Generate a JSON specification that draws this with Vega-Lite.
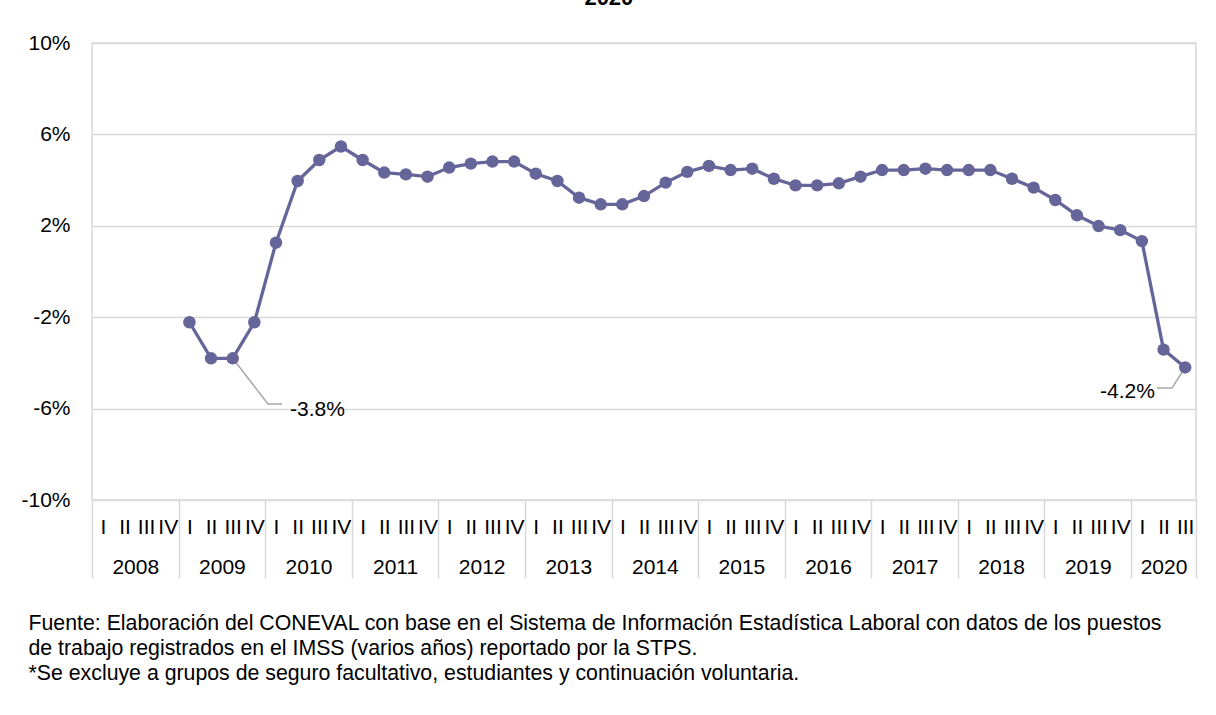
{
  "$schema": "https://vega.github.io/schema/vega-lite/v6.json",
  "width": 1104,
  "height": 457,
  "autosize": {"type": "none"},
  "padding": {"left": 92, "top": 43, "right": 20, "bottom": 215},
  "background": "white",
  "title": {"text": "2020", "fontSize": 22, "fontWeight": "bold", "font": "Liberation Sans", "color": "#000000", "anchor": "middle", "frame": "bounds", "baseline": "bottom", "offset": 20, "dy": 20},
  "config": {
    "view": {"stroke": "#d9d9d9", "strokeWidth": 1.5},
    "font": "Liberation Sans",
    "axis": {"labelFont": "Liberation Sans", "titleFont": "Liberation Sans", "labelColor": "#000000", "titleColor": "#000000"}
  },
  "datasets": {
    "series": [
      {"t": 2009.125, "year": 2009, "quarter": "I", "v": -2.22},
      {"t": 2009.375, "year": 2009, "quarter": "II", "v": -3.8},
      {"t": 2009.625, "year": 2009, "quarter": "III", "v": -3.8},
      {"t": 2009.875, "year": 2009, "quarter": "IV", "v": -2.22},
      {"t": 2010.125, "year": 2010, "quarter": "I", "v": 1.26},
      {"t": 2010.375, "year": 2010, "quarter": "II", "v": 3.96},
      {"t": 2010.625, "year": 2010, "quarter": "III", "v": 4.88},
      {"t": 2010.875, "year": 2010, "quarter": "IV", "v": 5.47},
      {"t": 2011.125, "year": 2011, "quarter": "I", "v": 4.88},
      {"t": 2011.375, "year": 2011, "quarter": "II", "v": 4.33},
      {"t": 2011.625, "year": 2011, "quarter": "III", "v": 4.25},
      {"t": 2011.875, "year": 2011, "quarter": "IV", "v": 4.15},
      {"t": 2012.125, "year": 2012, "quarter": "I", "v": 4.55},
      {"t": 2012.375, "year": 2012, "quarter": "II", "v": 4.72},
      {"t": 2012.625, "year": 2012, "quarter": "III", "v": 4.81},
      {"t": 2012.875, "year": 2012, "quarter": "IV", "v": 4.81},
      {"t": 2013.125, "year": 2013, "quarter": "I", "v": 4.28},
      {"t": 2013.375, "year": 2013, "quarter": "II", "v": 3.96},
      {"t": 2013.625, "year": 2013, "quarter": "III", "v": 3.23},
      {"t": 2013.875, "year": 2013, "quarter": "IV", "v": 2.94},
      {"t": 2014.125, "year": 2014, "quarter": "I", "v": 2.94},
      {"t": 2014.375, "year": 2014, "quarter": "II", "v": 3.3},
      {"t": 2014.625, "year": 2014, "quarter": "III", "v": 3.89},
      {"t": 2014.875, "year": 2014, "quarter": "IV", "v": 4.36},
      {"t": 2015.125, "year": 2015, "quarter": "I", "v": 4.62},
      {"t": 2015.375, "year": 2015, "quarter": "II", "v": 4.44},
      {"t": 2015.625, "year": 2015, "quarter": "III", "v": 4.5},
      {"t": 2015.875, "year": 2015, "quarter": "IV", "v": 4.06},
      {"t": 2016.125, "year": 2016, "quarter": "I", "v": 3.77},
      {"t": 2016.375, "year": 2016, "quarter": "II", "v": 3.77},
      {"t": 2016.625, "year": 2016, "quarter": "III", "v": 3.86},
      {"t": 2016.875, "year": 2016, "quarter": "IV", "v": 4.15},
      {"t": 2017.125, "year": 2017, "quarter": "I", "v": 4.44},
      {"t": 2017.375, "year": 2017, "quarter": "II", "v": 4.44},
      {"t": 2017.625, "year": 2017, "quarter": "III", "v": 4.5},
      {"t": 2017.875, "year": 2017, "quarter": "IV", "v": 4.44},
      {"t": 2018.125, "year": 2018, "quarter": "I", "v": 4.44},
      {"t": 2018.375, "year": 2018, "quarter": "II", "v": 4.44},
      {"t": 2018.625, "year": 2018, "quarter": "III", "v": 4.06},
      {"t": 2018.875, "year": 2018, "quarter": "IV", "v": 3.67},
      {"t": 2019.125, "year": 2019, "quarter": "I", "v": 3.13},
      {"t": 2019.375, "year": 2019, "quarter": "II", "v": 2.46},
      {"t": 2019.625, "year": 2019, "quarter": "III", "v": 1.99},
      {"t": 2019.875, "year": 2019, "quarter": "IV", "v": 1.81},
      {"t": 2020.125, "year": 2020, "quarter": "I", "v": 1.33},
      {"t": 2020.375, "year": 2020, "quarter": "II", "v": -3.42},
      {"t": 2020.625, "year": 2020, "quarter": "III", "v": -4.2}
    ],
    "leaders": [
      {"id": "a", "k": 1, "t": 2009.625, "v": -3.8},
      {"id": "a", "k": 2, "t": 2010.033, "v": -5.8},
      {"id": "a", "k": 3, "t": 2010.194, "v": -5.8},
      {"id": "b", "k": 1, "t": 2020.625, "v": -4.2},
      {"id": "b", "k": 2, "t": 2020.472, "v": -5.1},
      {"id": "b", "k": 3, "t": 2020.299, "v": -5.1}
    ],
    "labels": [
      {"t": 2010.287, "v": -6.06, "label": "-3.8%", "side": "left"},
      {"t": 2020.276, "v": -5.27, "label": "-4.2%", "side": "right"}
    ]
  },
  "resolve": {"axis": {"x": "independent", "y": "independent"}},
  "layer": [
    {
      "data": {"name": "leaders"},
      "mark": {"type": "line", "color": "#a6a6a6", "strokeWidth": 1.5},
      "encoding": {
        "x": {"field": "t", "type": "quantitative", "scale": {"domain": [2008, 2020.75], "nice": false, "zero": false},
          "axis": {"orient": "bottom", "values": [2008, 2009, 2010, 2011, 2012, 2013, 2014, 2015, 2016, 2017, 2018, 2019, 2020, 2020.75],
            "labels": false, "grid": false, "domain": false, "ticks": true, "tickSize": 78, "tickColor": "#d9d9d9", "tickWidth": 1.5, "title": null}},
        "y": {"field": "v", "type": "quantitative", "scale": {"domain": [-10, 10], "nice": false},
          "axis": {"orient": "left", "values": [-10, -6, -2, 2, 6, 10], "labelExpr": "datum.value + '%'", "labelFontSize": 21, "labelPadding": 22,
            "ticks": false, "domain": false, "grid": true, "gridColor": "#d9d9d9", "gridWidth": 1.5, "title": null}},
        "detail": {"field": "id"},
        "order": {"field": "k"}
      }
    },
    {
      "data": {"name": "series"},
      "mark": {"type": "line", "color": "#65659a", "strokeWidth": 3.3},
      "encoding": {
        "x": {"field": "t", "type": "quantitative", "scale": {"domain": [2008, 2020.75], "nice": false, "zero": false},
          "axis": {"orient": "bottom", "values": [2008.125, 2008.375, 2008.625, 2008.875, 2009.125, 2009.375, 2009.625, 2009.875, 2010.125, 2010.375, 2010.625, 2010.875, 2011.125, 2011.375, 2011.625, 2011.875, 2012.125, 2012.375, 2012.625, 2012.875, 2013.125, 2013.375, 2013.625, 2013.875, 2014.125, 2014.375, 2014.625, 2014.875, 2015.125, 2015.375, 2015.625, 2015.875, 2016.125, 2016.375, 2016.625, 2016.875, 2017.125, 2017.375, 2017.625, 2017.875, 2018.125, 2018.375, 2018.625, 2018.875, 2019.125, 2019.375, 2019.625, 2019.875, 2020.125, 2020.375, 2020.625],
            "labelExpr": "['I','II','III','IV'][floor((datum.value - floor(datum.value)) * 4)]",
            "labelFontSize": 21, "labelPadding": 16, "labelFlush": false, "labelOverlap": false, "labelBound": false,
            "ticks": false, "domain": false, "grid": false, "title": null}},
        "y": {"field": "v", "type": "quantitative", "scale": {"domain": [-10, 10], "nice": false}, "axis": null}
      }
    },
    {
      "data": {"name": "series"},
      "mark": {"type": "point", "filled": true, "shape": "circle", "color": "#65659a", "size": 155, "opacity": 1},
      "encoding": {
        "x": {"field": "t", "type": "quantitative", "scale": {"domain": [2008, 2020.75], "nice": false, "zero": false},
          "axis": {"orient": "bottom", "values": [2008.5, 2009.5, 2010.5, 2011.5, 2012.5, 2013.5, 2014.5, 2015.5, 2016.5, 2017.5, 2018.5, 2019.5, 2020.375],
            "labelExpr": "'' + floor(datum.value)",
            "labelFontSize": 21, "labelPadding": 56, "labelFlush": false, "labelOverlap": false, "labelBound": false,
            "ticks": false, "domain": false, "grid": false,
            "title": ["Fuente: Elaboración del CONEVAL con base en el Sistema de Información Estadística Laboral con datos de los puestos", "de trabajo registrados en el IMSS (varios años) reportado por la STPS.", "*Se excluye a grupos de seguro facultativo, estudiantes y continuación voluntaria."],
            "titleX": -64, "titleY": 129, "titleAlign": "left", "titleAnchor": "start", "titleBaseline": "alphabetic",
            "titleFontSize": 21.3, "titleFontWeight": "normal", "titleLineHeight": 25, "titleAngle": 0}},
        "y": {"field": "v", "type": "quantitative", "scale": {"domain": [-10, 10], "nice": false}, "axis": null}
      }
    },
    {
      "data": {"name": "labels"},
      "transform": [{"filter": "datum.side == 'left'"}],
      "mark": {"type": "text", "fontSize": 21, "color": "#000000", "baseline": "middle", "align": "left"},
      "encoding": {
        "x": {"field": "t", "type": "quantitative", "scale": {"domain": [2008, 2020.75], "nice": false, "zero": false}, "axis": null},
        "y": {"field": "v", "type": "quantitative", "scale": {"domain": [-10, 10], "nice": false}, "axis": null},
        "text": {"field": "label"}
      }
    },
    {
      "data": {"name": "labels"},
      "transform": [{"filter": "datum.side == 'right'"}],
      "mark": {"type": "text", "fontSize": 21, "color": "#000000", "baseline": "middle", "align": "right"},
      "encoding": {
        "x": {"field": "t", "type": "quantitative", "scale": {"domain": [2008, 2020.75], "nice": false, "zero": false}, "axis": null},
        "y": {"field": "v", "type": "quantitative", "scale": {"domain": [-10, 10], "nice": false}, "axis": null},
        "text": {"field": "label"}
      }
    }
  ]
}
